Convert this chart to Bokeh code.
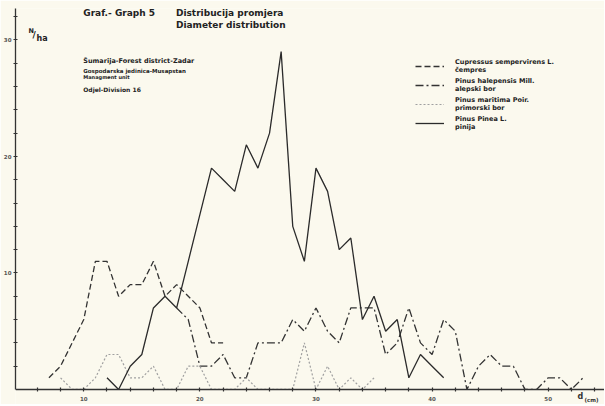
from bokeh.plotting import figure
from bokeh.models import FixedTicker, Label, Range1d, Legend, LegendItem
from bokeh.embed import file_html
from bokeh.resources import INLINE

# ---- data (diameter class in cm, trees per hectare) ----
cupressus_d = [7, 8, 9, 10, 11, 12, 13, 14, 15, 16, 17, 18, 19, 20, 21, 22]
cupressus_n = [1, 2, 4, 6, 11, 11, 8, 9, 9, 11, 8, 9, 8, 7, 4, 4]

halepensis_d = [18, 19, 20, 21, 22, 23, 24, 25, 26, 27, 28, 29, 30, 31, 32, 33, 34, 35,
                36, 37, 38, 39, 40, 41, 42, 43, 44, 45, 46, 47, 48, 49, 50, 51, 52, 53]
halepensis_n = [7, 6, 2, 2, 3, 1, 1, 4, 4, 4, 6, 5, 7, 5, 4, 7, 7, 7,
                3, 4, 7, 4, 3, 6, 5, 0, 2, 3, 2, 2, 0, 0, 1, 1, 0, 1]

maritima_d = [8, 9, 10, 11, 12, 13, 14, 15, 16, 17, 18, 19, 20, 21, 22, 23, 24, 25,
              26, 27, 28, 29, 30, 31, 32, 33, 34, 35]
maritima_n = [1, 0, 0, 1, 3, 3, 1, 1, 2, 0, 0, 2, 2, 0, 0, 0, 1, 0,
              0, 0, 0, 4, 0, 2, 0, 1, 0, 1]

pinea_d = [12, 13, 14, 15, 16, 17, 18, 19, 20, 21, 22, 23, 24, 25, 26, 27, 28, 29,
           30, 31, 32, 33, 34, 35, 36, 37, 38, 39, 40, 41]
pinea_n = [1, 0, 2, 3, 7, 8, 7, 11, 15, 19, 18, 17, 21, 19, 22, 29, 14, 11,
           19, 17, 12, 13, 6, 8, 5, 6, 1, 3, 2, 1]

x_major = [10, 20, 30, 40, 50]
x_minor = [6, 8, 12, 14, 16, 18, 22, 24, 26, 28, 32, 34, 36, 38, 42, 44, 46, 48, 52, 54]
y_major = [10, 20, 30]
y_minor = [2, 4, 6, 8, 12, 14, 16, 18, 22, 24, 26, 28, 32]

legend_labels = ["Cupressus sempervirens L.\nčempres",
                 "Pinus halepensis Mill.\nalepski bor",
                 "Pinus maritima Poir.\nprimorski bor",
                 "Pinus Pinea L.\npinija"]

PAPER = "#fbf9ee"
INK = "#333333"
FONT = "DejaVu Sans"

p = figure(width=604, height=404, x_range=Range1d(4.12, 54.85), y_range=Range1d(-1.29, 32.7),
           output_backend="svg", toolbar_location=None,
           min_border_left=13, min_border_right=0, min_border_top=8, min_border_bottom=0)
p.outline_line_color = None
p.grid.visible = False
p.background_fill_color = PAPER
p.border_fill_color = PAPER

p.xaxis.ticker = FixedTicker(ticks=x_major, minor_ticks=x_minor)
p.yaxis.ticker = FixedTicker(ticks=y_major, minor_ticks=y_minor)
p.xaxis.fixed_location = 0
p.yaxis.bounds = (0, 32.7)
for ax in (p.xaxis, p.yaxis):
    ax.axis_line_color = INK
    ax.axis_line_width = 1.3
    ax.major_tick_line_color = INK
    ax.minor_tick_line_color = INK
    ax.major_tick_line_width = 1.2
    ax.minor_tick_line_width = 1.2
    ax.major_tick_in = 2
    ax.major_tick_out = 2
    ax.minor_tick_in = 2
    ax.minor_tick_out = 2
    ax.major_label_text_font_size = "5.5px"
    ax.major_label_text_font = FONT
    ax.major_label_text_font_style = "bold"
    ax.major_label_text_color = "#555555"
p.xaxis.major_label_standoff = 5
p.yaxis.major_label_standoff = 2

r1 = p.line(cupressus_d, cupressus_n, line_color=INK, line_width=1.3, line_dash="6 3")
r2 = p.line(halepensis_d, halepensis_n, line_color=INK, line_width=1.3, line_dash="8 3 2 3")
r3 = p.line(maritima_d, maritima_n, line_color="#a0a0a0", line_width=1.2, line_dash="2 2")
r4 = p.line(pinea_d, pinea_n, line_color="#2b2b2b", line_width=1.3)

legend = Legend(items=[LegendItem(label=legend_labels[i], renderers=[r])
                       for i, r in enumerate([r1, r2, r3, r4])],
                location=(400, 273), padding=0, margin=0, spacing=3,
                glyph_width=29, glyph_height=14, label_standoff=11,
                label_text_font=FONT, label_text_font_style="bold",
                label_text_font_size="6.5px", label_text_color="#222222",
                label_text_line_height=1.1,
                background_fill_alpha=0, border_line_color=None)
p.add_layout(legend)


def at(px, py):
    return (px + 35) / 11.65, (389 - py) / 11.65


def label(txt, px, py, size, style="bold", color="#222222"):
    x, y = at(px, py)
    p.add_layout(Label(x=x, y=y, text=txt, text_font=FONT, text_font_style=style,
                       text_font_size=size, text_color=color, text_baseline="middle",
                       text_align="left"))


label("Graf.- Graph  5", 81, 13, "9px")
label("Distribucija  promjera", 174, 13, "9px")
label("Diameter  distribution", 174, 25, "9px")
label("N", 26, 31, "6.5px")
label("/", 30, 35, "9px")
label("ha", 34, 38, "8px")
label("Šumarija-Forest district-Zadar", 81, 61, "6.5px")
label("Gospodarska jedinica-Musapstan", 81, 71, "5.5px")
label("Managment unit", 81, 77, "5px")
label("Odjel-Division  16", 81, 89, "6px")
label("d", 577, 396, "8px", color="#333333")
label("(cm)", 584, 400, "5.5px", color="#333333")

html = file_html(p, INLINE)
html = html.replace("<body>", '<body style="background-color:#fbf9ee;">', 1)
open("out.html", "w").write(html)
